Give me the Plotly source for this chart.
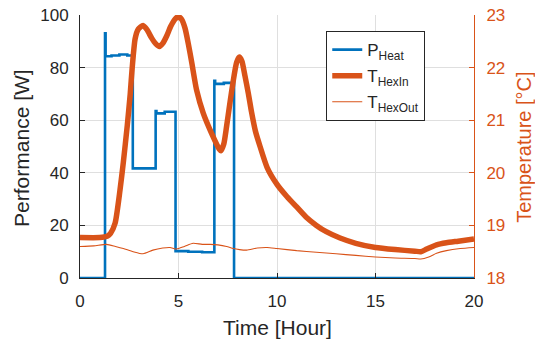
import plotly.graph_objects as go

# ---- data ----
p_time = [0, 1.27, 1.30, 1.6, 2.0, 2.4, 2.68, 3.84, 3.88, 4.3, 4.85, 5.5, 6.2, 6.82, 6.86, 7.3, 7.82, 20]
p_heat = [0, 93.0, 84.3, 84.6, 85.0, 84.6, 41.7, 63.5, 62.6, 63.2, 10.2, 10.0, 9.8, 75.0, 73.8, 74.2, 0, 0]

t_in_time = [0, 1.0, 1.4, 1.55, 1.78, 2.03, 2.2, 2.4, 2.55, 2.65, 2.8, 2.96, 3.2, 3.4, 3.64, 3.85,
             4.03, 4.2, 4.4, 4.6, 4.82, 4.99, 5.15, 5.33, 5.5, 5.67, 5.92, 6.26, 6.68, 7.07, 7.15,
             7.3, 7.44, 7.6, 7.78, 7.95, 8.09, 8.22, 8.37, 8.55, 8.71, 8.9, 9.14, 9.5, 10.0, 10.5,
             11.0, 11.5, 12.0, 12.5, 13.2, 14.0, 15.0, 16.0, 17.0, 17.3, 17.6, 18.1, 18.6, 19.2, 20.0]
t_hex_in = [18.77, 18.77, 18.8, 18.85, 19.04, 19.67, 20.2, 20.9, 21.5, 22.0, 22.55, 22.73, 22.8, 22.72,
            22.56, 22.45, 22.4, 22.46, 22.6, 22.78, 22.92, 22.97, 22.92, 22.75, 22.45, 22.1, 21.57,
            21.13, 20.75, 20.45, 20.42, 20.55, 20.88, 21.3, 21.75, 22.1, 22.2, 22.12, 21.85, 21.5,
            21.15, 20.8, 20.5, 20.1, 19.78, 19.55, 19.35, 19.15, 19.0, 18.88, 18.76, 18.66, 18.58,
            18.54, 18.51, 18.5, 18.55, 18.63, 18.67, 18.7, 18.74]

t_out_time = [0, 0.7, 1.35, 1.8, 2.2, 2.7, 3.2, 3.7, 4.2, 4.57, 4.9, 5.3, 5.74, 6.2, 6.6, 7.0, 7.44,
              7.78, 8.1, 8.46, 9.0, 9.5, 10.0, 11.0, 12.0, 13.0, 14.0, 15.0, 16.0, 17.0, 17.3, 17.7,
              18.1, 18.6, 19.3, 20.0]
t_hex_out = [18.6, 18.61, 18.64, 18.6, 18.56, 18.5, 18.46, 18.53, 18.57, 18.58, 18.55, 18.6, 18.66,
             18.64, 18.64, 18.63, 18.6, 18.56, 18.54, 18.53, 18.57, 18.58, 18.56, 18.52, 18.49, 18.46,
             18.43, 18.4, 18.38, 18.37, 18.36, 18.4, 18.47, 18.52, 18.56, 18.58]

x_ticks = [0, 5, 10, 15, 20]
y_ticks = [0, 20, 40, 60, 80, 100]
y2_ticks = [18, 19, 20, 21, 22, 23]

BLUE = "#0072BD"
ORANGE = "#D95319"
DARK = "#262626"
GRID = "#DFDFDF"
FONT = "Liberation Sans, Arial, sans-serif"

fig = go.Figure()
fig.add_trace(go.Scatter(x=p_time, y=p_heat, mode="lines", line=dict(color=BLUE, width=2.6, shape="hv"),
                         name="P<sub>Heat</sub>", legendgroup="a", yaxis="y"))
fig.add_trace(go.Scatter(x=t_in_time, y=t_hex_in, mode="lines",
                         line=dict(color=ORANGE, width=5.5, shape="spline", smoothing=0.6),
                         name="T<sub>HexIn</sub>", legendgroup="b", yaxis="y2"))
fig.add_trace(go.Scatter(x=t_out_time, y=t_hex_out, mode="lines",
                         line=dict(color=ORANGE, width=1.1, shape="spline", smoothing=0.6),
                         name="T<sub>HexOut</sub>", legendgroup="c", yaxis="y2"))

fig.update_layout(
    width=535, height=342,
    margin=dict(l=80, r=61, t=15, b=64, autoexpand=False),
    plot_bgcolor="white", paper_bgcolor="white",
    font=dict(family=FONT, size=17, color=DARK),
    showlegend=True,
    legend=dict(x=0.625, y=0.939, xanchor="left", yanchor="top", bgcolor="white",
                bordercolor=DARK, borderwidth=1, font=dict(size=17, color=DARK),
                tracegroupgap=1),
    xaxis=dict(range=[0, 20], tickvals=x_ticks, ticks="inside", ticklen=5, tickcolor=DARK,
               showline=True, linecolor=DARK, linewidth=1, showgrid=True, gridcolor=GRID,
               zeroline=False, ticklabelstandoff=8, automargin=False),
    yaxis=dict(range=[0, 100], tickvals=y_ticks, ticks="inside", ticklen=5, tickcolor=DARK,
               showline=True, linecolor=DARK, linewidth=1, showgrid=True, gridcolor=GRID,
               zeroline=False, ticklabelstandoff=7, automargin=False),
    yaxis2=dict(range=[18, 23], tickvals=y2_ticks, ticks="inside", ticklen=5, tickcolor=ORANGE,
                overlaying="y", side="right", showline=True, linecolor=ORANGE, linewidth=1,
                showgrid=False, zeroline=False, ticklabelstandoff=8, automargin=False,
                tickfont=dict(color=ORANGE)),
    annotations=[
        dict(text="Time [Hour]", xref="paper", yref="paper", x=0.5, y=-0.19,
             xanchor="center", yanchor="middle", showarrow=False, font=dict(size=21, color=DARK)),
        dict(text="Performance [W]", xref="paper", yref="paper", x=-0.147, y=0.495,
             xanchor="center", yanchor="middle", textangle=-90, showarrow=False,
             font=dict(size=21, color=DARK)),
        dict(text="Temperature [°C]", xref="paper", yref="paper", x=1.127, y=0.495,
             xanchor="center", yanchor="middle", textangle=-90, showarrow=False,
             font=dict(size=20, color=ORANGE)),
    ],
)

# the page body has a default 8px margin; remove it so the figure sits at the window origin
fig.write_html("out.html", config={"displayModeBar": False},
               post_script="document.body.style.margin='0';")
